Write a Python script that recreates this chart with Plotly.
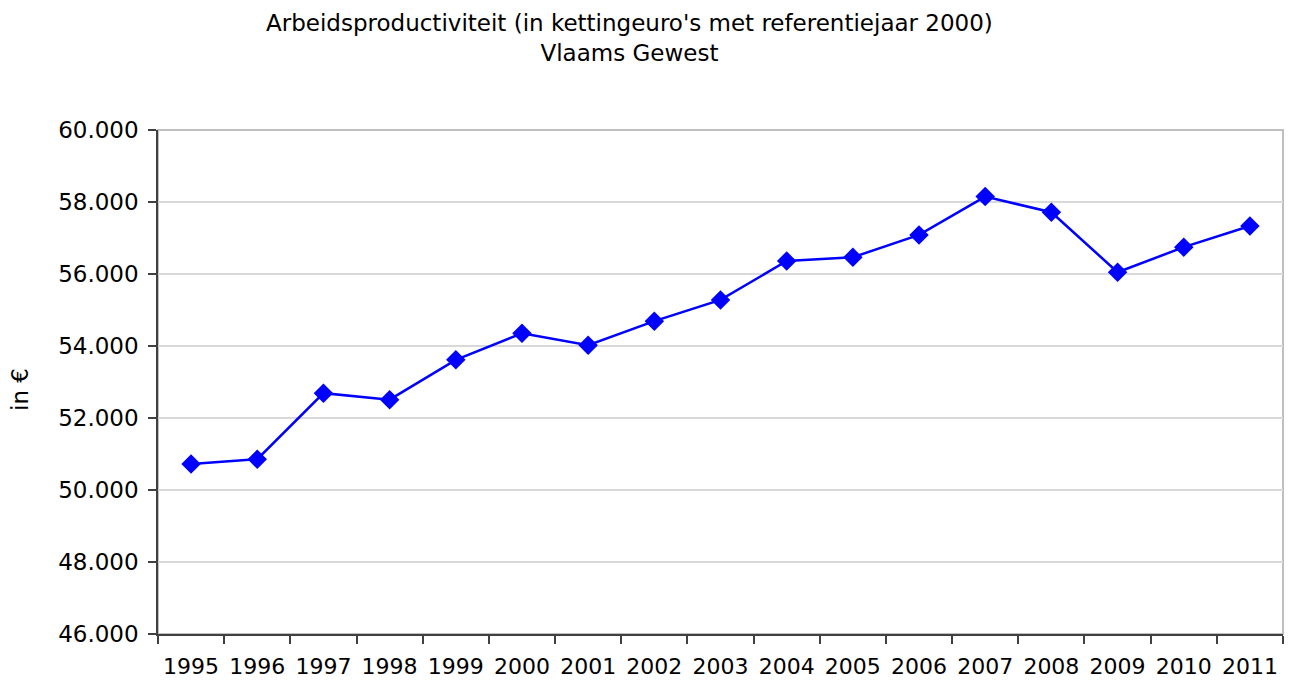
import plotly.graph_objects as go

years = ["1995", "1996", "1997", "1998", "1999", "2000", "2001", "2002", "2003",
         "2004", "2005", "2006", "2007", "2008", "2009", "2010", "2011"]
productivity = [50720, 50855, 52690, 52510, 53615, 54355, 54020, 54690, 55280,
                56360, 56465, 57085, 58150, 57715, 56050, 56745, 57335]
y_ticks = [46000, 48000, 50000, 52000, 54000, 56000, 58000, 60000]
title_lines = ["Arbeidsproductiviteit (in kettingeuro's met referentiejaar 2000)", "Vlaams Gewest"]
y_title = "in €"

FONT = "DejaVu Sans"

fig = go.Figure()
fig.add_trace(go.Scatter(
    x=years, y=productivity, mode="lines+markers",
    line=dict(color="#0000FF", width=2.5),
    marker=dict(symbol="diamond", size=15, color="#0000FF"),
    showlegend=False,
))

# page body has an 8px default margin; compensate so the plot area sits at x 158-1283, y 130-634
fig.update_layout(
    width=1284, height=675,
    margin=dict(l=150, r=9, t=122, b=49),
    paper_bgcolor="white", plot_bgcolor="white",
    separators=",.",
    font=dict(family=FONT, color="black"),
    shapes=[dict(type="rect", xref="paper", yref="paper", x0=0, x1=1, y0=0, y1=1,
                 line=dict(color="#BFBFBF", width=2), layer="below")],
    annotations=[
        dict(text="<br>".join(title_lines), xref="paper", yref="paper",
             x=(629 - 158) / 1125, y=1, yshift=92, yanchor="middle", xanchor="center",
             showarrow=False, align="center",
             font=dict(family=FONT, size=23, color="black")),
        dict(text=y_title, xref="paper", yref="paper",
             x=(20 - 158) / 1125, y=0.5, yshift=-8, xanchor="center", yanchor="middle",
             textangle=-90, showarrow=False,
             font=dict(family=FONT, size=23, color="black")),
    ],
)
fig.update_xaxes(
    type="category", range=[-0.5, len(years) - 0.5],
    tickson="boundaries", ticks="outside", ticklen=8,
    tickcolor="#404040", tickwidth=1.5, tickangle=0, automargin=False,
    ticklabelstandoff=12,
    showline=True, linecolor="#404040", linewidth=1.5,
    showgrid=False, tickfont=dict(size=22, family=FONT),
)
fig.update_yaxes(
    range=[46000, 60000], tickvals=y_ticks, tickformat=",d",
    ticks="outside", ticklen=8, tickcolor="#404040", tickwidth=1.5, automargin=False,
    ticklabelstandoff=5,
    showline=True, linecolor="#404040", linewidth=1.5,
    showgrid=True, gridcolor="#D9D9D9", gridwidth=1.5,
    tickfont=dict(size=23, family=FONT),
    zeroline=False,
)

fig.write_html("out.html")
